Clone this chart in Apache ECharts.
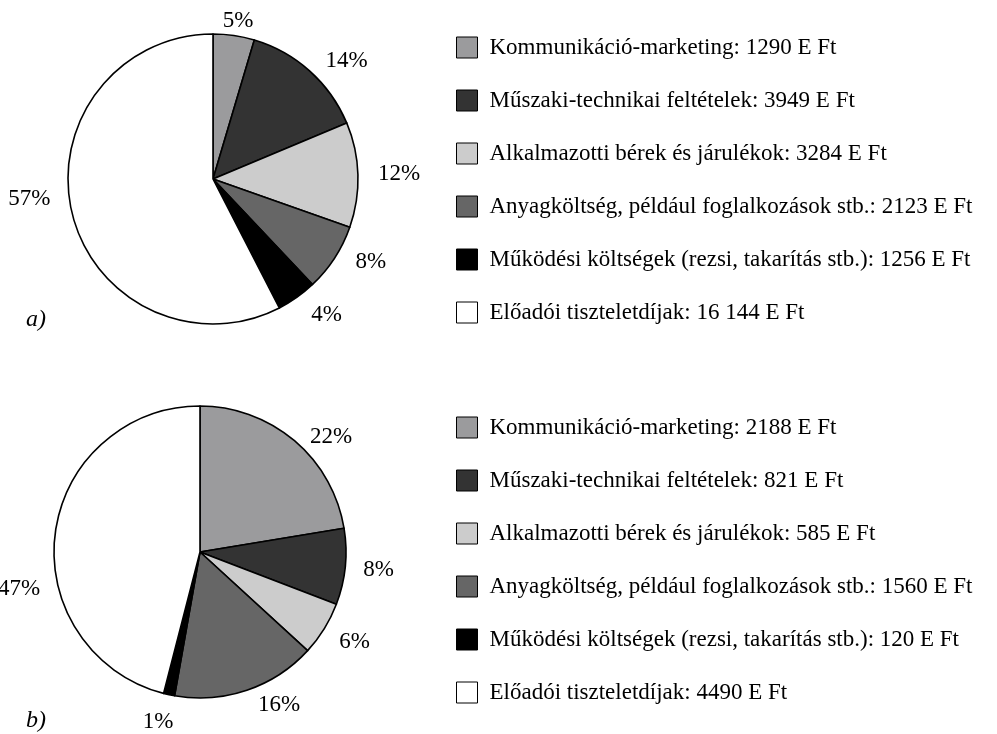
<!DOCTYPE html>
<html>
<head>
<meta charset="utf-8">
<script src="https://cdn.jsdelivr.net/npm/echarts@6/dist/echarts.min.js"></script>
<style>
html,body{margin:0;padding:0;background:#fff;}
#chart{width:997px;height:734px;}
</style>
</head>
<body>
<div id="chart"></div>
<script>
// Categories
const categories = [
  'Kommunikáció-marketing',
  'Műszaki-technikai feltételek',
  'Alkalmazotti bérek és járulékok',
  'Anyagköltség, például foglalkozások stb.',
  'Működési költségek (rezsi, takarítás stb.)',
  'Előadói tiszteletdíjak'
];
// Values (E Ft)
const valuesA = [1290, 3949, 3284, 2123, 1256, 16144];
const valuesB = [2188, 821, 585, 1560, 120, 4490];
// Percentage labels as printed
const pctLabelsA = ['5%', '14%', '12%', '8%', '4%', '57%'];
const pctLabelsB = ['22%', '8%', '6%', '16%', '1%', '47%'];
// Panel captions
const captions = ['a)', 'b)'];

const sliceColors = ['#9b9b9d', '#333333', '#cccccc', '#666666', '#000000', '#ffffff'];
const FONT = "'Liberation Serif', 'DejaVu Serif', serif";

function fmtValue(v) {
  const s = String(v);
  return (v >= 10000 ? s.replace(/\B(?=(\d{3})+(?!\d))/g, ' ') : s) + ' E Ft';
}

function buildData(values, nudges) {
  return categories.map((name, i) => ({
    name: name,
    value: values[i],
    itemStyle: { color: sliceColors[i] },
    label: { offset: nudges[i] }
  }));
}

function pieSeries(values, labels, center, radius, nudges) {
  return {
    type: 'pie',
    center: center,
    radius: radius,
    startAngle: 90,
    clockwise: true,
    animation: false,
    silent: true,
    avoidLabelOverlap: false,
    itemStyle: { borderColor: '#000', borderWidth: 1.6 },
    label: {
      show: true,
      position: 'outside',
      formatter: p => labels[p.dataIndex],
      fontFamily: FONT,
      fontSize: 23,
      color: '#000',
      distanceToLabelLine: 5
    },
    labelLine: { show: false, length: 13, length2: 2 },
    emphasis: { disabled: true },
    data: buildData(values, nudges)
  };
}

function legendFor(values, top) {
  return {
    orient: 'vertical',
    left: 451,
    top: top,
    icon: 'rect',
    itemWidth: 21,
    itemHeight: 21,
    itemGap: 30,
    selectedMode: false,
    itemStyle: { borderColor: '#000', borderWidth: 1 },
    formatter: name => name + ': ' + fmtValue(values[categories.indexOf(name)]),
    textStyle: {
      fontFamily: FONT,
      fontSize: 23,
      color: '#000',
      padding: [0, 0, 0, 7]
    },
    data: categories
  };
}

const captionStyle = { fontFamily: FONT, fontSize: 24, fontStyle: 'italic', fontWeight: 'normal', color: '#000' };

const chart = echarts.init(document.getElementById('chart'), null, { renderer: 'canvas' });
chart.setOption({
  backgroundColor: '#fff',
  animation: false,
  title: [
    { text: captions[0], left: 21, top: 303, textStyle: captionStyle },
    { text: captions[1], left: 21, top: 704, textStyle: captionStyle }
  ],
  legend: [legendFor(valuesA, 31), legendFor(valuesB, 411)],
  series: [
    pieSeries(valuesA, pctLabelsA, [213, 179], 145,
      [[-20, -2], [0, 0], [0, 0], [3, -3], [0, 7], [-2, -17]]),
    pieSeries(valuesB, pctLabelsB, [200, 552], 146,
      [[0, 6], [-2, 2], [-3, 6], [0, 2], [14, 15], [5, 57]])
  ]
});
</script>
</body>
</html>
